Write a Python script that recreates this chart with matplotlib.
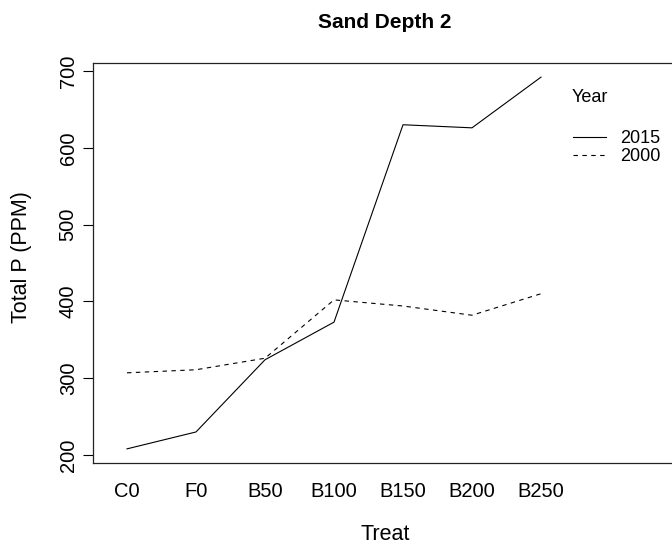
import matplotlib
matplotlib.use("Agg")
import matplotlib.pyplot as plt
import numpy as np

matplotlib.rc("font", family=["Liberation Sans", "DejaVu Sans"])

# Data
treat = ["C0", "F0", "B50", "B100", "B150", "B200", "B250"]
year2015 = [208, 230, 324, 373, 630, 626, 692]
year2000 = [307, 311, 326, 402, 394, 382, 410]
yticks = [200, 300, 400, 500, 600, 700]

x = np.arange(1, len(treat) + 1)

fig = plt.figure(figsize=(6.72, 5.48), dpi=100)
ax = fig.add_axes([93 / 672, 85 / 548, 600 / 672, 400 / 548])

l1, = ax.plot(x, year2015, color="black", lw=0.8, label="2015")
l2, = ax.plot(x, year2000, color="black", lw=0.8, linestyle=(0, (4, 4)),
              label="2000")

ax.set_xlim(1 - 34 / 69, 1 + (693 - 127) / 69)
ax.set_ylim(200 - 8 / 0.768, 700 + 8 / 0.768)

ax.set_yticks(yticks)
ax.set_yticklabels([str(v) for v in yticks], rotation=90, va="center",
                   fontsize=14.5)
ax.tick_params(axis="y", length=7, width=0.8, pad=4)

ax.set_xticks(x)
ax.set_xticklabels(treat, fontsize=14.5)
ax.tick_params(axis="x", length=0, pad=14)

for s in ax.spines.values():
    s.set_linewidth(0.9)
    s.set_color("#222222")

fig.text(385 / 672, 1 - 22 / 548, "Sand Depth 2", ha="center", va="center",
         fontsize=15, fontweight="bold")
fig.text(385 / 672, 1 - 535 / 548, "Treat", ha="center", va="center",
         fontsize=15.5)
fig.text(22 / 672, 1 - 257 / 548, "Total P (PPM)", ha="center", va="center",
         rotation=90, fontsize=15.5)

fig.text(572 / 672, 1 - 98 / 548, "Year", ha="left", va="center",
         fontsize=13)
ax.legend(handles=[l1, l2], loc="upper left", frameon=False,
          bbox_to_anchor=(566 / 672, 1 - 123 / 548),
          bbox_transform=fig.transFigure, fontsize=13, handlelength=1.8,
          handletextpad=0.8, labelspacing=0.05, borderaxespad=0)

fig.savefig("out.png", dpi=100)
